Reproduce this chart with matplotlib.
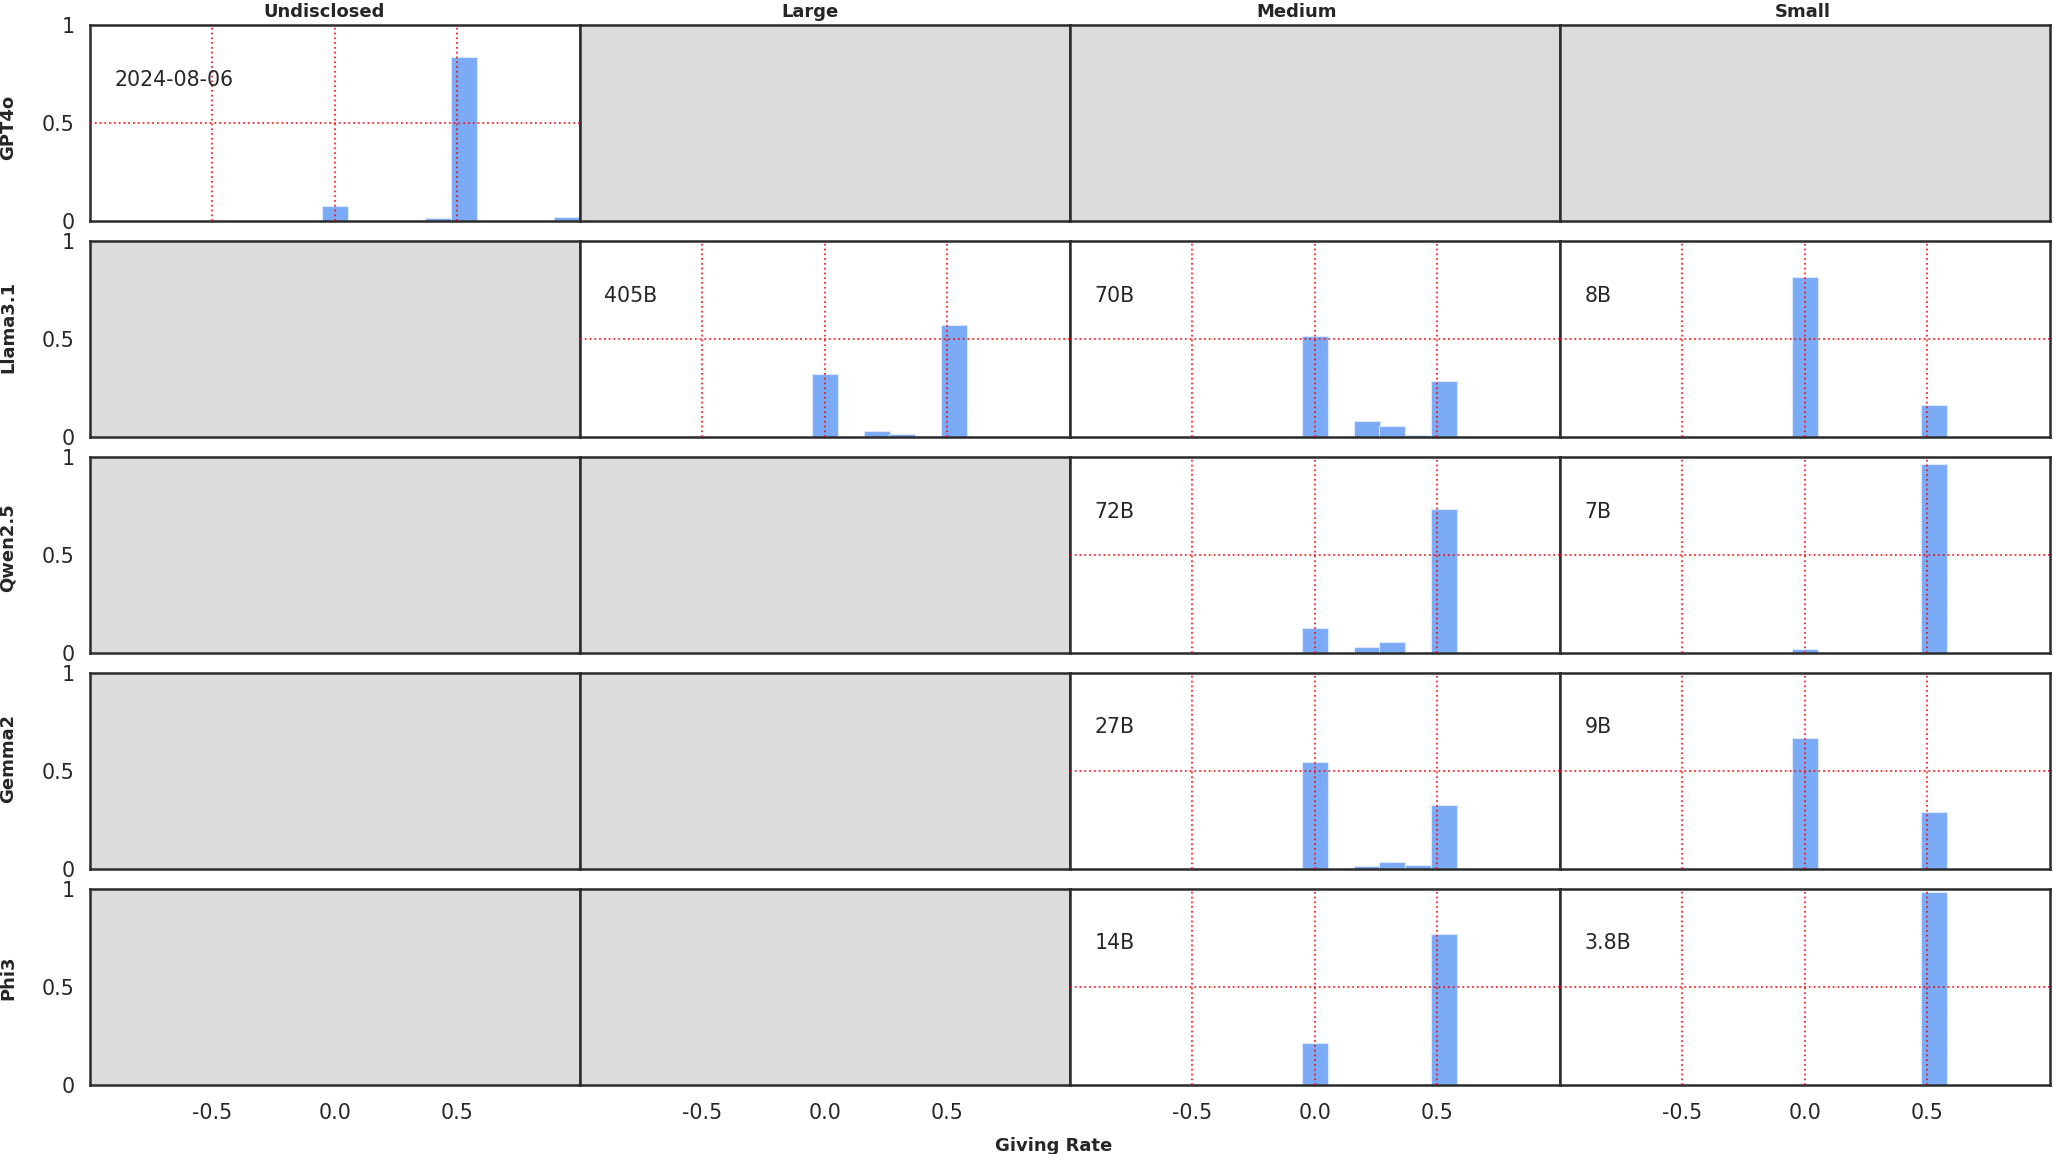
import matplotlib.pyplot as plt

plt.rcParams['font.family'] = ['DejaVu Sans']
plt.rcParams['axes.unicode_minus'] = False

models = ['GPT4o', 'Llama3.1', 'Qwen2.5', 'Gemma2', 'Phi3']
sizes = ['Undisclosed', 'Large', 'Medium', 'Small']

# bar positions (giving rate) and share of answers, read per panel
gpt4o_x = [0.0, 0.421, 0.526, 0.947]
gpt4o_h = [0.077, 0.017, 0.835, 0.022]

llama405_x = [0.0, 0.211, 0.316, 0.421, 0.526]
llama405_h = [0.32, 0.031, 0.017, 0.007, 0.573]

llama70_x = [0.0, 0.211, 0.316, 0.421, 0.526]
llama70_h = [0.518, 0.080, 0.055, 0.009, 0.285]

llama8_x = [0.0, 0.526]
llama8_h = [0.819, 0.162]

qwen72_x = [0.0, 0.211, 0.316, 0.526]
qwen72_h = [0.127, 0.029, 0.055, 0.736]

qwen7_x = [0.0, 0.526]
qwen7_h = [0.019, 0.964]

gemma27_x = [0.0, 0.211, 0.316, 0.421, 0.526]
gemma27_h = [0.548, 0.014, 0.034, 0.022, 0.324]

gemma9_x = [0.0, 0.526]
gemma9_h = [0.670, 0.289]

phi14_x = [0.0, 0.526]
phi14_h = [0.212, 0.771]

phi38_x = [0.526]
phi38_h = [0.986]

#(row, col) -> label, x, heights
panels = {
    (0, 0): ('2024-08-06', gpt4o_x, gpt4o_h),
    (1, 1): ('405B', llama405_x, llama405_h),
    (1, 2): ('70B', llama70_x, llama70_h),
    (1, 3): ('8B', llama8_x, llama8_h),
    (2, 2): ('72B', qwen72_x, qwen72_h),
    (2, 3): ('7B', qwen7_x, qwen7_h),
    (3, 2): ('27B', gemma27_x, gemma27_h),
    (3, 3): ('9B', gemma9_x, gemma9_h),
    (4, 2): ('14B', phi14_x, phi14_h),
    (4, 3): ('3.8B', phi38_x, phi38_h),
}

bar_color = '#7baaf7'
txt_color = '#262626'
bin_w = 2/19.

#title x (axes fraction) and row label y (pixels from top), as placed in the original
title_x = [0.478, 0.470, 0.463, 0.496]
rowlab_y = [127, 327, 548, 758, 978]

fig, axes = plt.subplots(5, 4, figsize=(20.54, 11.54), dpi=100, sharex=True, sharey=True)
fig.subplots_adjust(left=0.0438, right=0.998, top=0.9783, bottom=0.0598, wspace=0, hspace=0.102)

for i in range(5):
    for j in range(4):
        ax = axes[i, j]
        ax.set_xlim(-1, 1)
        ax.set_ylim(0, 1)
        ax.set_xticks([-0.5, 0.0, 0.5])
        ax.set_xticklabels(['-0.5', '0.0', '0.5'])
        ax.set_yticks([0, 0.5, 1])
        ax.set_yticklabels(['0', '0.5', '1'])
        ax.tick_params(length=0, labelsize=14.8, colors=txt_color, pad=11)
        ax.tick_params(axis='x', pad=13)
        for s in ax.spines.values():
            s.set_linewidth(1.8)
            s.set_color('#2b2b2b')
        if (i, j) in panels:
            lab, x, h = panels[(i, j)]
            ax.bar(x, h, width=bin_w, color=bar_color, edgecolor='#dce8fc', linewidth=0.8, zorder=2)
            for g in [-0.5, 0.0, 0.5]:
                ax.axvline(g, color='red', ls=':', lw=1.3, alpha=0.85, zorder=3)
            ax.axhline(0.5, color='red', ls=':', lw=1.3, alpha=0.85, zorder=3)
            ax.text(0.05, 0.722, lab, transform=ax.transAxes, ha='left', va='center',
                    fontsize=14.8, color=txt_color)
        else:
            ax.set_facecolor('#dcdcdc')
        if i == 0:
            ax.set_title(sizes[j], x=title_x[j], fontsize=13, fontweight='bold', color=txt_color, pad=6)
    fig.text(8/2054., 1 - rowlab_y[i]/1154., models[i], rotation=90, ha='center', va='center',
             fontsize=13, fontweight='bold', color=txt_color)

fig.text(1054/2054., 0.0073, 'Giving Rate', ha='center', va='center',
         fontsize=13, fontweight='bold', color=txt_color)

fig.savefig('out.png', dpi=100)
plt.close()
